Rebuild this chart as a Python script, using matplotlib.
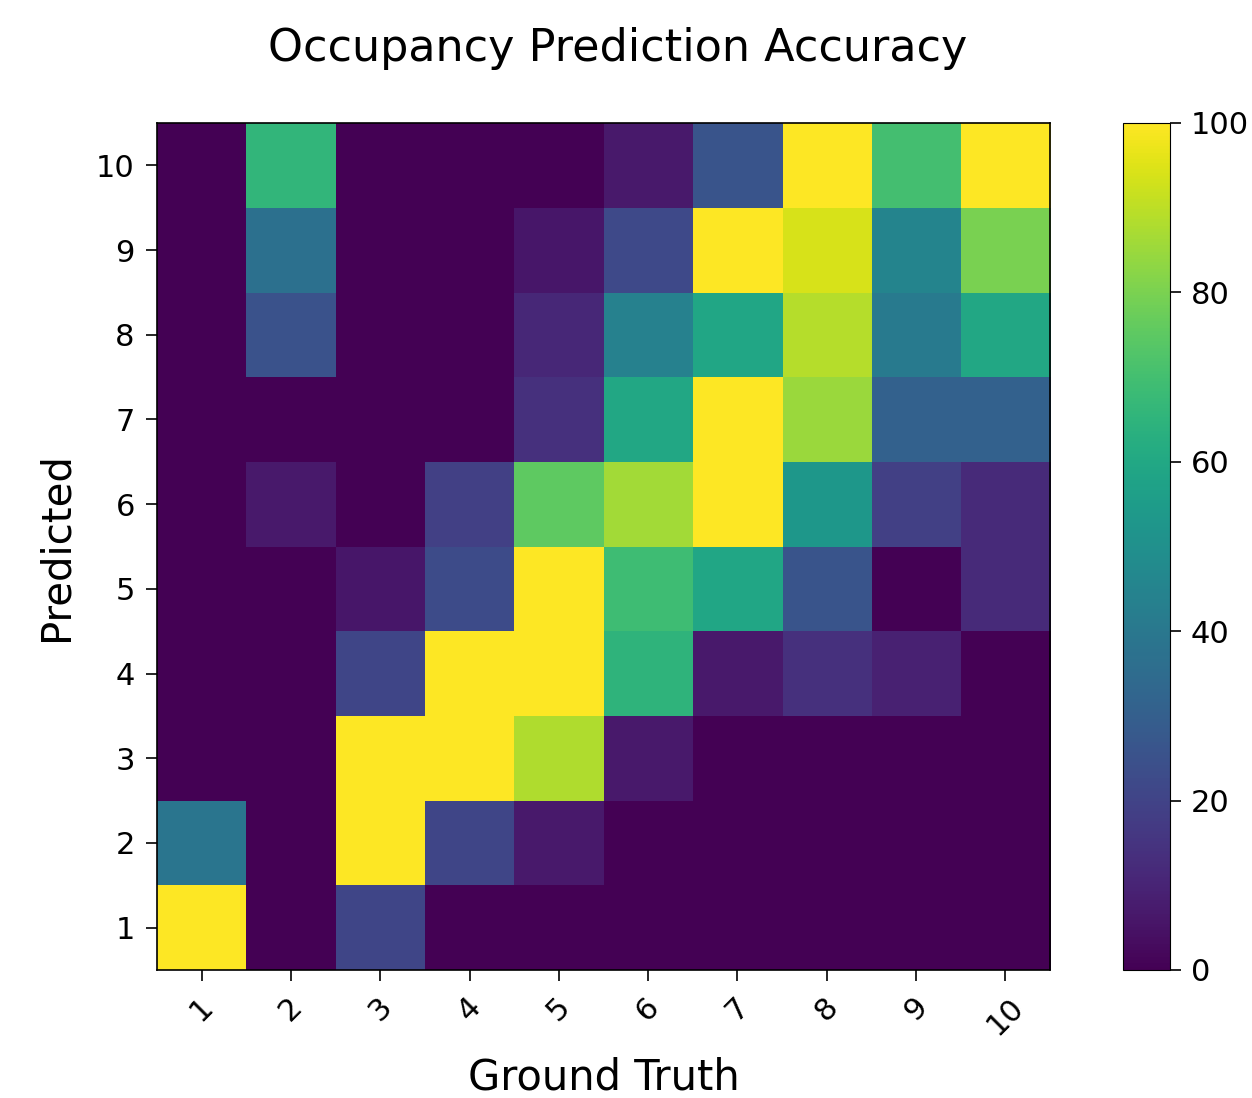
import numpy as np
import matplotlib
matplotlib.use("Agg")
import matplotlib.pyplot as plt

# accuracy (%) per ground-truth class, listed for predicted class 1..10
labels = [1, 2, 3, 4, 5, 6, 7, 8, 9, 10]
gt_1  = [100, 39, 0, 0, 0, 0, 0, 0, 0, 0]
gt_2  = [0, 0, 0, 0, 0, 7, 0, 25, 37, 66]
gt_3  = [21, 100, 100, 21, 6, 0, 0, 0, 0, 0]
gt_4  = [0, 21, 100, 100, 23, 19, 0, 0, 0, 0]
gt_5  = [0, 7, 88, 100, 100, 75, 14, 11, 6, 0]
gt_6  = [0, 0, 7, 65, 69, 86, 60, 44, 22, 7]
gt_7  = [0, 0, 0, 7, 59, 100, 100, 59, 100, 26]
gt_8  = [0, 0, 0, 14, 26, 53, 85, 89, 94, 100]
gt_9  = [0, 0, 0, 9, 0, 19, 31, 41, 45, 70]
gt_10 = [0, 0, 0, 0, 12, 12, 31, 60, 80, 100]

acc = np.array([gt_1, gt_2, gt_3, gt_4, gt_5, gt_6, gt_7, gt_8, gt_9, gt_10]).T

fig = plt.figure(figsize=(12.52, 10.98), dpi=100)
ax = fig.add_axes([0.1254, 0.1166, 0.7133, 0.7714])
cax = fig.add_axes([0.897, 0.1166, 0.0375, 0.7714])

im = ax.imshow(acc, cmap="viridis", origin="lower", aspect="auto",
               vmin=0, vmax=100, interpolation="nearest")
ax.set_xticks(range(len(labels)))
ax.set_xticklabels(labels, rotation=45, fontsize=22)
ax.set_yticks(range(len(labels)))
ax.set_yticklabels(labels, fontsize=22)
ax.tick_params(length=8, width=1.2, pad=8)
for s in ax.spines.values():
    s.set_linewidth(1.2)
ax.set_xlabel("Ground Truth", fontsize=30, labelpad=12)
ax.set_ylabel("Predicted", fontsize=29, labelpad=14)

cb = fig.colorbar(im, cax=cax)
cb.set_ticks([0, 20, 40, 60, 80, 100])
cb.ax.tick_params(labelsize=22, length=8, width=1.2, pad=7)

fig.text(0.4936, 1 - 48 / 1098, "Occupancy Prediction Accuracy",
         ha="center", va="center", fontsize=32)

fig.savefig("out.png", dpi=100)
